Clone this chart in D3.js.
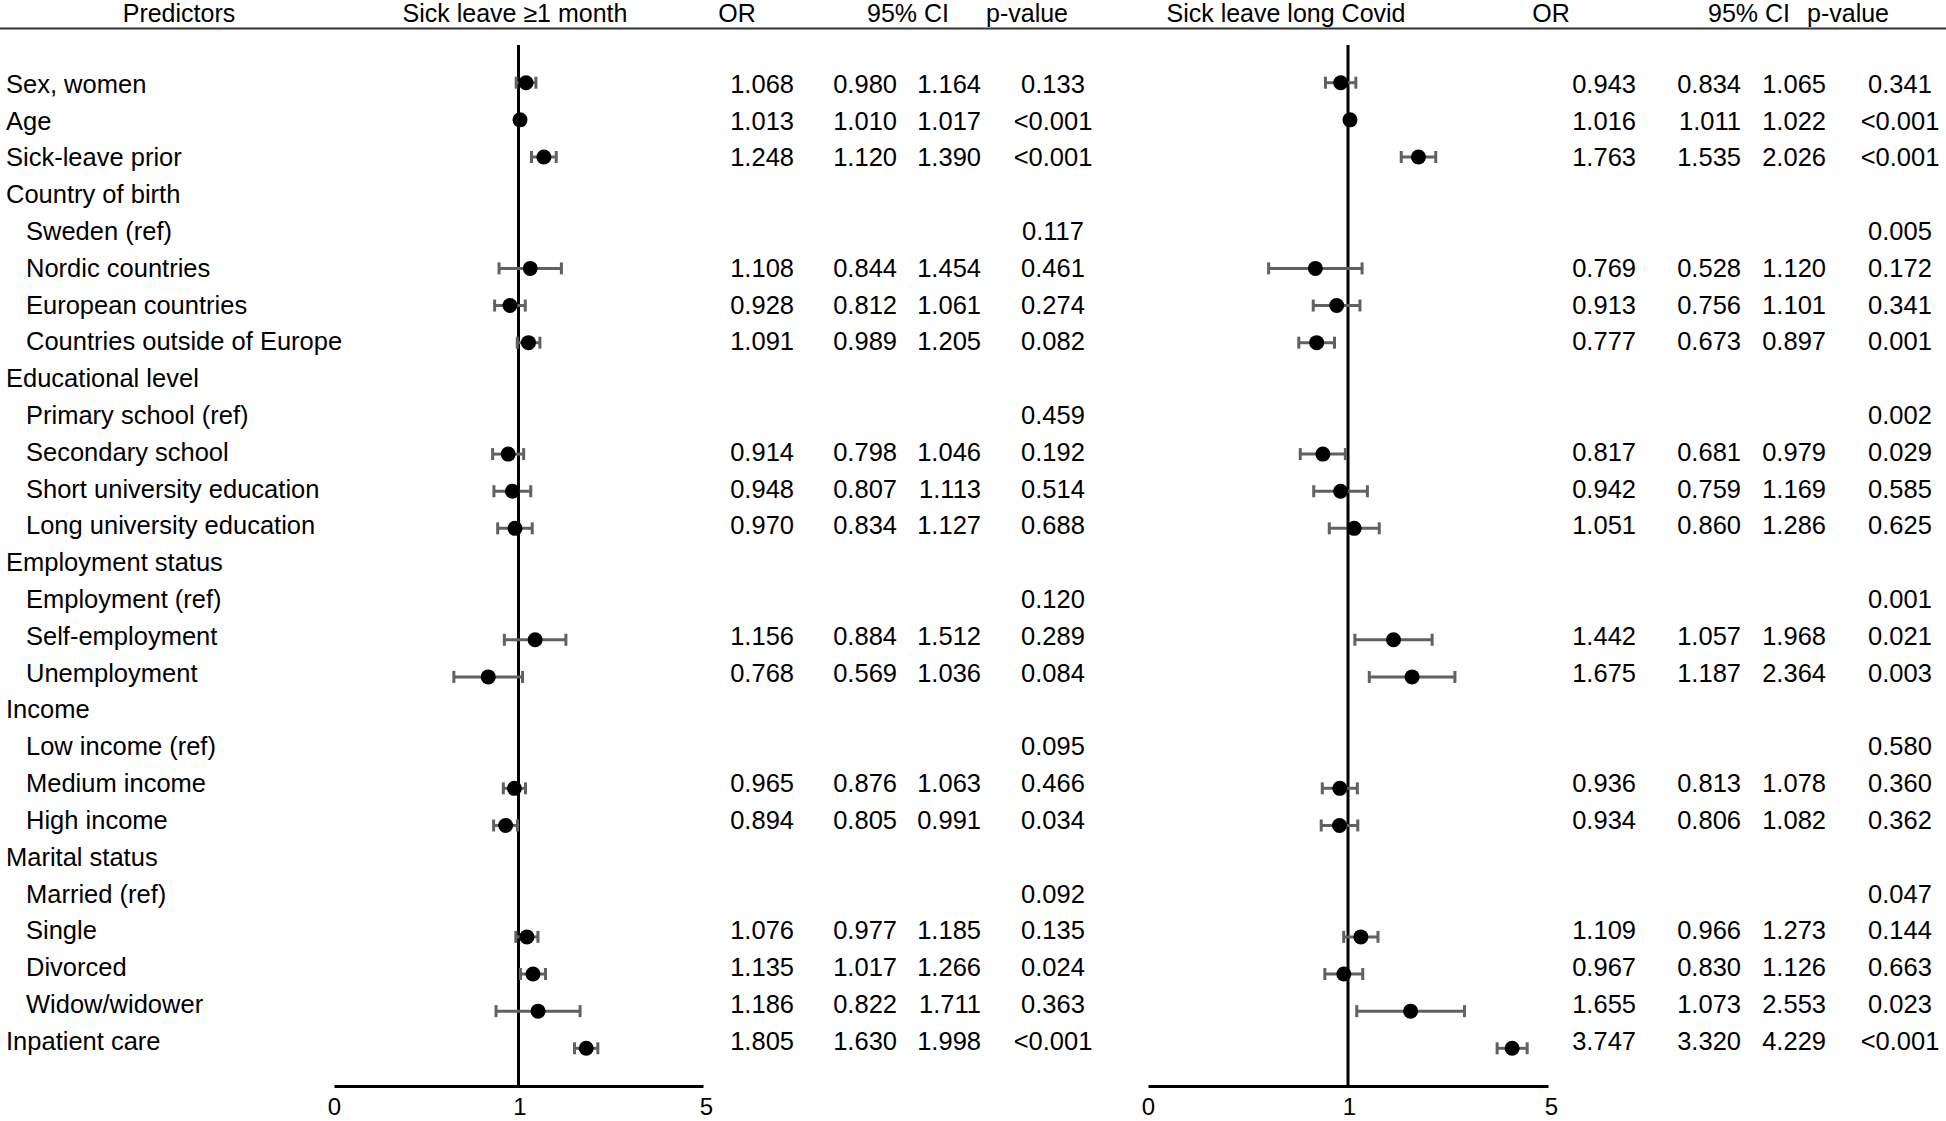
<!DOCTYPE html>
<html>
<head>
<meta charset="utf-8">
<script src="https://cdn.jsdelivr.net/npm/d3@7/dist/d3.min.js"></script>
<style>
  html, body { margin: 0; padding: 0; background: #fff; }
  svg { display: block; }
  text { font-family: "Liberation Sans", Arial, Helvetica, sans-serif; fill: #000; }
</style>
</head>
<body>
<script>
// ---------- data ----------
const predictors = [
  "Sex, women", "Age", "Sick-leave prior", "Country of birth",
  "Sweden (ref)", "Nordic countries", "European countries", "Countries outside of Europe",
  "Educational level", "Primary school (ref)", "Secondary school", "Short university education", "Long university education",
  "Employment status", "Employment (ref)", "Self-employment", "Unemployment",
  "Income", "Low income (ref)", "Medium income", "High income",
  "Marital status", "Married (ref)", "Single", "Divorced", "Widow/widower",
  "Inpatient care"
];
const level = [0,0,0,0,1,1,1,1,0,1,1,1,1,0,1,1,1,0,1,1,1,0,1,1,1,1,0];

// Sick leave >=1 month
const orA = [1.068,1.013,1.248,null,null,1.108,0.928,1.091,null,null,0.914,0.948,0.970,null,null,1.156,0.768,null,null,0.965,0.894,null,null,1.076,1.135,1.186,1.805];
const loA = [0.980,1.010,1.120,null,null,0.844,0.812,0.989,null,null,0.798,0.807,0.834,null,null,0.884,0.569,null,null,0.876,0.805,null,null,0.977,1.017,0.822,1.630];
const hiA = [1.164,1.017,1.390,null,null,1.454,1.061,1.205,null,null,1.046,1.113,1.127,null,null,1.512,1.036,null,null,1.063,0.991,null,null,1.185,1.266,1.711,1.998];
const pA  = ["0.133","<0.001","<0.001","","0.117","0.461","0.274","0.082","","0.459","0.192","0.514","0.688","","0.120","0.289","0.084","","0.095","0.466","0.034","","0.092","0.135","0.024","0.363","<0.001"];

// Sick leave long Covid
const orB = [0.943,1.016,1.763,null,null,0.769,0.913,0.777,null,null,0.817,0.942,1.051,null,null,1.442,1.675,null,null,0.936,0.934,null,null,1.109,0.967,1.655,3.747];
const loB = [0.834,1.011,1.535,null,null,0.528,0.756,0.673,null,null,0.681,0.759,0.860,null,null,1.057,1.187,null,null,0.813,0.806,null,null,0.966,0.830,1.073,3.320];
const hiB = [1.065,1.022,2.026,null,null,1.120,1.101,0.897,null,null,0.979,1.169,1.286,null,null,1.968,2.364,null,null,1.078,1.082,null,null,1.273,1.126,2.553,4.229];
const pB  = ["0.341","<0.001","<0.001","","0.005","0.172","0.341","0.001","","0.002","0.029","0.585","0.625","","0.001","0.021","0.003","","0.580","0.360","0.362","","0.047","0.144","0.663","0.023","<0.001"];

const headers = ["Predictors","Sick leave \u22651 month","OR","95% CI","p-value","Sick leave long Covid","OR","95% CI","p-value"];
const tickValues = [0.2, 1, 5];
const tickLabels = ["0", "1", "5"];

// ---------- layout ----------
const W = 1946, H = 1121;
const FS = 25.5;
const svg = d3.select("body").append("svg").attr("width", W).attr("height", H);

const idx = d3.range(predictors.length);
const yText = d3.scalePoint().domain(idx).range([92.7, 1049.8]);   // baselines
const yMark = d3.scalePoint().domain(idx).range([82.7, 1048.3]);   // marker centres
const axisY = 1086, refTop = 45;

// header
const headerX = [179, 515, 737, 908, 1027, 1286, 1551, 1749, 1848];
svg.append("g").selectAll("text").data(headers).join("text")
  .attr("x", (d, i) => headerX[i]).attr("y", 22)
  .attr("text-anchor", "middle").attr("font-size", 25).text(d => d);
svg.append("line").attr("x1", 0).attr("x2", W).attr("y1", 28.5).attr("y2", 28.5)
  .attr("stroke", "#333").attr("stroke-width", 2);

// predictor labels
svg.append("g").selectAll("text").data(idx).join("text")
  .attr("x", i => level[i] ? 26 : 6).attr("y", i => yText(i))
  .attr("font-size", FS).text(i => predictors[i]);

const fmt = d3.format(".3f");
const tickShift = [0, 1, 3];

function panel(range, orV, loV, hiV, pV, cols) {
  const x = d3.scaleLog().domain([0.2, 5]).range(range);
  const g = svg.append("g");

  // axis
  const ax = g.append("g").attr("transform", `translate(0,${axisY})`)
    .call(d3.axisBottom(x).tickValues(tickValues).tickFormat((d, i) => tickLabels[i]).tickSize(0).tickSizeOuter(0));
  ax.select(".domain").attr("stroke", "#000").attr("stroke-width", 3);
  ax.selectAll(".tick text").attr("font-size", 24).attr("font-family", '"Liberation Sans", Arial, sans-serif')
    .attr("fill", "#000").attr("y", 29).attr("dy", null).attr("x", (d, i) => tickShift[i]);

  // reference line at OR = 1
  g.append("line").attr("x1", x(1)).attr("x2", x(1)).attr("y1", refTop).attr("y2", axisY)
    .attr("stroke", "#000").attr("stroke-width", 3);

  const rows = idx.filter(i => orV[i] != null);
  const eb = g.append("g").attr("stroke", "#616161").attr("stroke-width", 3).attr("fill", "none");
  eb.selectAll("line.w").data(rows).join("line").attr("class", "w")
    .attr("x1", i => x(loV[i])).attr("x2", i => x(hiV[i]))
    .attr("y1", i => yMark(i)).attr("y2", i => yMark(i));
  eb.selectAll("line.cl").data(rows).join("line").attr("class", "cl")
    .attr("x1", i => x(loV[i])).attr("x2", i => x(loV[i]))
    .attr("y1", i => yMark(i) - 6).attr("y2", i => yMark(i) + 6);
  eb.selectAll("line.ch").data(rows).join("line").attr("class", "ch")
    .attr("x1", i => x(hiV[i])).attr("x2", i => x(hiV[i]))
    .attr("y1", i => yMark(i) - 6).attr("y2", i => yMark(i) + 6);
  g.append("g").selectAll("circle").data(rows).join("circle")
    .attr("cx", i => x(orV[i])).attr("cy", i => yMark(i)).attr("r", 7.5).attr("fill", "#000");

  // numeric columns
  const t = g.append("g").attr("font-size", FS);
  t.selectAll("text.or").data(rows).join("text").attr("class", "or")
    .attr("x", cols[0]).attr("y", i => yText(i)).attr("text-anchor", "end").text(i => fmt(orV[i]));
  t.selectAll("text.lo").data(rows).join("text").attr("class", "lo")
    .attr("x", cols[1]).attr("y", i => yText(i)).attr("text-anchor", "end").text(i => fmt(loV[i]));
  t.selectAll("text.hi").data(rows).join("text").attr("class", "hi")
    .attr("x", cols[2]).attr("y", i => yText(i)).attr("text-anchor", "end").text(i => fmt(hiV[i]));
  t.selectAll("text.p").data(idx.filter(i => pV[i] !== "")).join("text").attr("class", "p")
    .attr("x", cols[3]).attr("y", i => yText(i)).attr("text-anchor", "middle").text(i => pV[i]);
}

panel([334, 703], orA, loA, hiA, pA, [794, 897, 981, 1053]);
panel([1148, 1548], orB, loB, hiB, pB, [1636, 1741, 1826, 1900]);
</script>
</body>
</html>
